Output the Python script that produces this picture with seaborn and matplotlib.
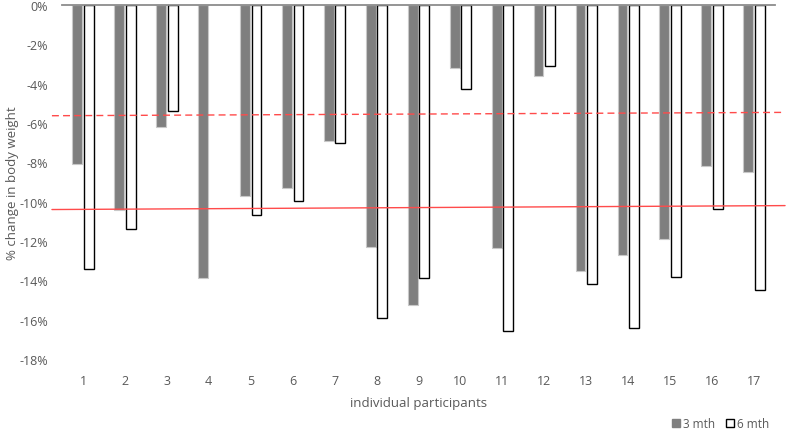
import matplotlib
matplotlib.use("Agg")
import matplotlib.pyplot as plt
from matplotlib.patches import Patch
from matplotlib.ticker import FuncFormatter
import numpy as np
import pandas as pd
import seaborn as sns

# values (percent change in body weight)
participants = [str(i) for i in range(1, 18)]
three_mth = [-8.1, -10.4, -6.2, -13.9, -9.7, -9.3, -6.9, -12.3, -15.25, -3.2,
             -12.35, -3.6, -13.5, -12.7, -11.9, -8.2, -8.5]
six_mth = [-13.4, -11.4, -5.4, np.nan, -10.7, -9.95, -7.0, -15.9, -13.9, -4.25,
           -16.6, -3.1, -14.2, -16.4, -13.85, -10.35, -14.5]
series_names = ["3 mth", "6 mth"]

# trend lines (start / end values)
trend_x = [-0.74, 16.74]
trend_dashed = [-5.63, -5.46]
trend_solid = [-10.40, -10.20]

sns.set_style("white")
plt.rcParams['font.family'] = ['Open Sans', 'DejaVu Sans']
text_col = "#595959"

df = pd.DataFrame({
    "participant": participants * 2,
    "change": three_mth + six_mth,
    "period": [series_names[0]] * 17 + [series_names[1]] * 17,
})

fig = plt.figure(figsize=(7.9, 4.31), dpi=100)
ax = fig.add_axes([62 / 790, 1 - 360 / 431, 713 / 790, 354 / 431])

sns.barplot(data=df, x="participant", y="change", hue="period",
            hue_order=series_names, order=participants,
            palette=["#7F7F7F", "white"], width=0.55, gap=0.15,
            legend=False, ax=ax)

for bar in ax.containers[0]:
    bar.set_edgecolor("#C8C8C8")
    bar.set_linewidth(0.8)
for bar in ax.containers[1]:
    bar.set_edgecolor("black")
    bar.set_linewidth(1.0)

ax.plot(trend_x, trend_dashed, color="#FF4B4B", lw=1.0, ls=(0, (5, 3)),
        clip_on=False, zorder=5)
ax.plot(trend_x, trend_solid, color="#FF4B4B", lw=1.0,
        clip_on=False, zorder=5)

ax.set_xlim(-0.5, 16.5)
ax.set_ylim(-18, 0)
ax.set_yticks(np.arange(-18, 1, 2))
ax.yaxis.set_major_formatter(FuncFormatter(lambda v, p: f"{v:.0f}%"))

for s in ["left", "right", "bottom"]:
    ax.spines[s].set_visible(False)
ax.spines["top"].set_color("#8C8C8C")
ax.spines["top"].set_linewidth(1.3)

ax.tick_params(axis="both", length=0, labelsize=9, colors=text_col)
ax.tick_params(axis="y", pad=10)
ax.tick_params(axis="x", pad=11)

ax.set_xlabel("individual participants", fontsize=9.5, color=text_col, labelpad=6)
ax.set_ylabel("% change in body weight", fontsize=9.5, color=text_col)
ax.yaxis.set_label_coords(-0.061, 0.5)

handles = [Patch(facecolor="#7F7F7F", edgecolor="#7F7F7F"),
           Patch(facecolor="white", edgecolor="black")]
fig.legend(handles, series_names, loc="lower right", ncol=2, frameon=False,
           bbox_to_anchor=(780 / 790, -0.025), fontsize=8.5, labelcolor=text_col,
           handlelength=0.7, handleheight=0.7, handletextpad=0.25,
           columnspacing=0.9)

fig.savefig("out.png", dpi=100)
